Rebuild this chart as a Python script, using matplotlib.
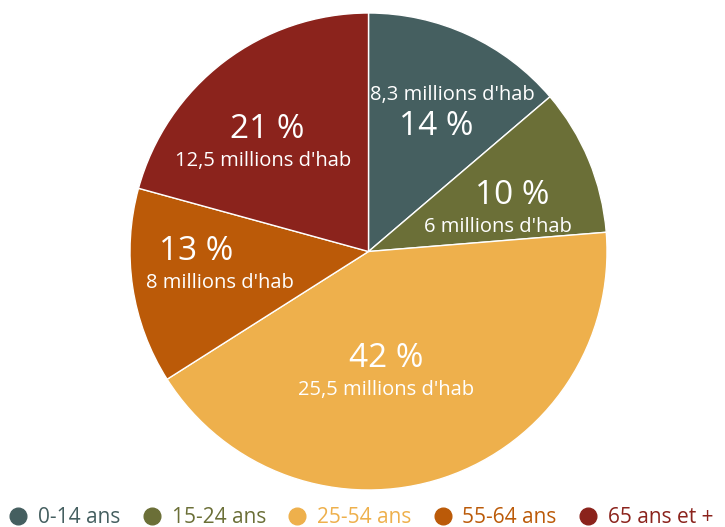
import matplotlib.pyplot as plt
from matplotlib.lines import Line2D
import numpy as np

# Population par tranche d'âge (millions d'habitants)
categories = ['0-14 ans', '15-24 ans', '25-54 ans', '55-64 ans', '65 ans et +']
millions = [8.3, 6, 25.5, 8, 12.5]
pct_labels = ['14 %', '10 %', '42 %', '13 %', '21 %']
millions_labels = ["8,3 millions d'hab", "6 millions d'hab", "25,5 millions d'hab",
                   "8 millions d'hab", "12,5 millions d'hab"]
colors = ['#455f60', '#6b6f37', '#eeb04c', '#bb5a08', '#8b231c']

plt.rcParams['font.family'] = ['Open Sans', 'DejaVu Sans']

fig = plt.figure(figsize=(7.25, 5.27), dpi=100)
ax = fig.add_axes([(368.5 - 238.5) / 725, 1 - (251.5 + 238.5) / 527,
                   477 / 725, 477 / 527])

wedges, _ = ax.pie(millions, colors=colors, startangle=90, counterclock=False,
                   radius=1, wedgeprops=dict(edgecolor='white', linewidth=1))
ax.set_xlim(-1, 1)
ax.set_ylim(-1, 1)
ax.set_aspect('auto')
ax.axis('off')

# radial distance, angle shift and sideways stagger for each label block
label_r = [0.68, 0.60, 0.51, 0.675, 0.63]
label_shift = [-3, -5, -10, -4, 6]
pct_dx = [-0.034, 0.031, 0.0, -0.048, 0.008]
for i, w in enumerate(wedges):
    mid = np.deg2rad((w.theta1 + w.theta2) / 2 + label_shift[i])
    x, y = label_r[i] * np.cos(mid), label_r[i] * np.sin(mid) - 0.012
    # first block puts the count above the share
    sign = -1 if i == 0 else 1
    ax.text(x + pct_dx[i], y + sign * 0.066, pct_labels[i], color='white',
            fontsize=24, ha='center', va='center')
    ax.text(x - pct_dx[i], y - sign * 0.066, millions_labels[i], color='white',
            fontsize=14.5, ha='center', va='center')

handles = [Line2D([], [], marker='o', linestyle='', markersize=12,
                  markerfacecolor=c, markeredgecolor=c) for c in colors]
leg = fig.legend(handles, categories, loc='lower left', bbox_to_anchor=(-0.015, -0.038),
                 ncol=5, frameon=False, fontsize=15, handletextpad=0.45,
                 columnspacing=1.0, handlelength=1.0)
for t, c in zip(leg.get_texts(), colors):
    t.set_color(c)

fig.savefig('out.png', dpi=100)
